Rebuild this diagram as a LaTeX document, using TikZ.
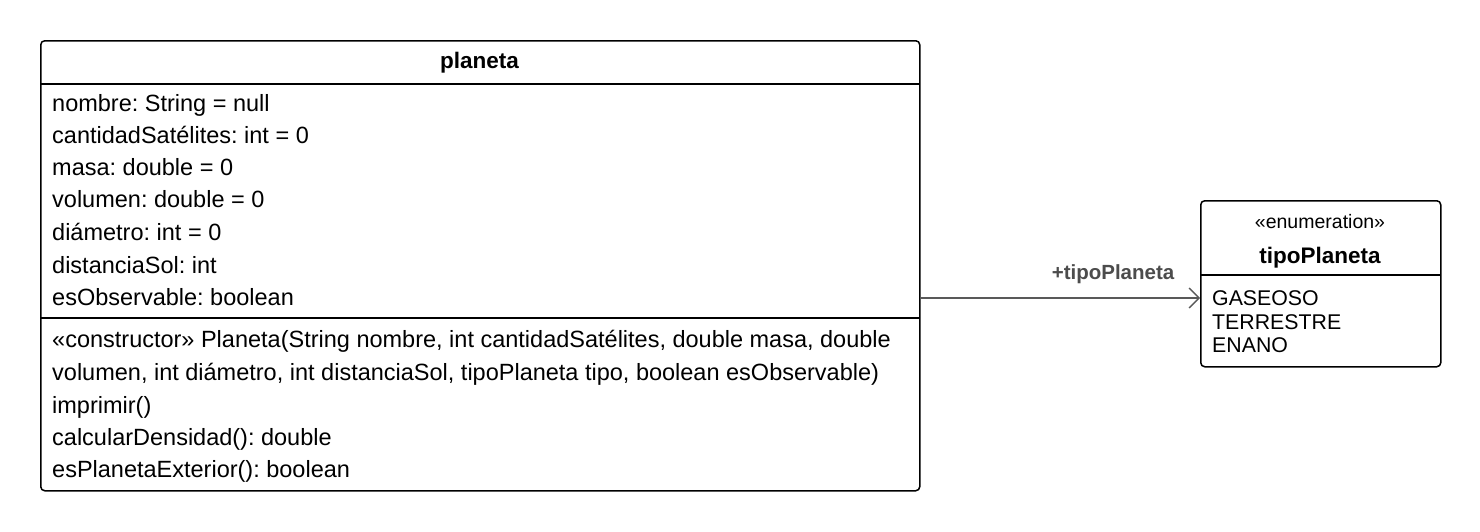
\documentclass[tikz,border=0pt]{standalone}
\usepackage{fontspec}
\setmainfont{Liberation Sans}
\usetikzlibrary{arrows.meta}
\begin{document}
\frenchspacing
\begin{tikzpicture}[x=1pt,y=-1pt,
  box/.style={draw=black, line width=1.5pt, rounded corners=4pt, inner sep=0pt, anchor=north west},
  sep/.style={draw=black, line width=1.3pt},
  txt/.style={anchor=base west, inner sep=0pt, font=\fontsize{23.5}{27}\selectfont},
  etxt/.style={anchor=base west, inner sep=0pt, font=\fontsize{21.3}{24}\selectfont},
  ttl/.style={anchor=base, inner sep=0pt, font=\fontsize{22.5}{26}\selectfont\bfseries},
  assoc/.style={draw=black!65, line width=1.3pt, -{Straight Barb[length=10pt,width=20pt,line width=1.3pt]}},
  lbl/.style={anchor=base, inner sep=0pt, text=black!70, font=\fontsize{20.5}{24}\selectfont\bfseries}]
\useasboundingbox (0,0) rectangle (1480,531);
% class planeta
\node[box, minimum width=879pt, minimum height=450pt] (planeta) at (40,40) {};
\draw[sep] (40,84) -- (919,84);
\draw[sep] (40,318) -- (919,318);
\node[ttl] (ptitle) at (479.5,68) {planeta};
\node[txt] (a1) at (52,111) {nombre: String = null};
\node[txt] (a2) at (52,143) {cantidadSatélites: int = 0};
\node[txt] (a3) at (52,175) {masa: double = 0};
\node[txt] (a4) at (52,207) {volumen: double = 0};
\node[txt] (a5) at (52,240) {diámetro: int = 0};
\node[txt] (a6) at (52,273) {distanciaSol: int};
\node[txt] (a7) at (52,305) {esObservable: boolean};
\node[txt] (m1) at (52,347) {«constructor» Planeta(String nombre, int cantidadSatélites, double masa, double};
\node[txt] (m2) at (52,380) {volumen, int diámetro, int distanciaSol, tipoPlaneta tipo, boolean esObservable)};
\node[txt] (m3) at (52,413) {imprimir()};
\node[txt] (m4) at (52,445) {calcularDensidad(): double};
\node[txt] (m5) at (52,477) {esPlanetaExterior(): boolean};
% enumeration tipoPlaneta
\node[box, minimum width=240pt, minimum height=166pt] (tipo) at (1200,200) {};
\draw[sep] (1200,275) -- (1440,275);
\node[anchor=base, inner sep=0pt, font=\fontsize{19.5}{24}\selectfont] (stereo) at (1320,228) {«enumeration»};
\node[ttl] (ttitle) at (1320,263) {tipoPlaneta};
\node[etxt] (e1) at (1212,305) {GASEOSO};
\node[etxt] (e2) at (1212,329) {TERRESTRE};
\node[etxt] (e3) at (1212,352) {ENANO};
% association
\coordinate (s) at (planeta.east |- 0,298);
\coordinate (t) at (tipo.west |- 0,298);
\draw[assoc] (s) -- (t);
\node[lbl] (al) at (1113,279) {+tipoPlaneta};
\end{tikzpicture}
\end{document}
